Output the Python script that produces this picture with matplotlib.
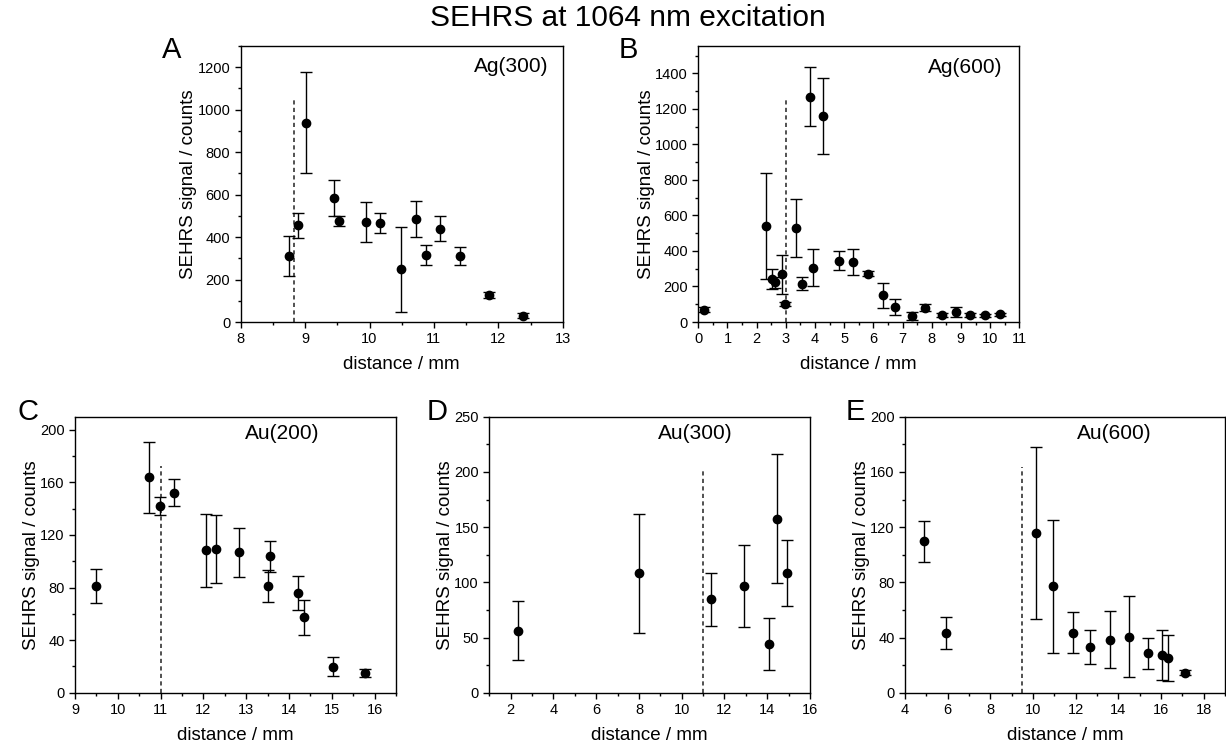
"""SEHRS signal vs distance for Ag and Au samples at 1064 nm excitation."""

import matplotlib
matplotlib.use("Agg")
import matplotlib.pyplot as plt
from matplotlib.ticker import MultipleLocator

plt.rcParams["font.family"] = ["Liberation Sans", "DejaVu Sans"]

# Ag(300)
ag300_x = [8.75, 8.895, 9.01, 9.45, 9.52, 9.94, 10.16, 10.49, 10.72, 10.87, 11.10, 11.41, 11.86, 12.39]
ag300_y = [312, 455, 938, 583, 476, 473, 465, 248, 485, 316, 440, 311, 127, 30]
ag300_err = [95, 60, 238, 85, 22, 94, 47, 200, 83, 47, 59, 42, 15, 12]
ag300_edge = 8.82

# Ag(600)
ag600_x = [0.21, 2.31, 2.52, 2.64, 2.86, 2.96, 3.34, 3.55, 3.84, 3.92, 4.29, 4.81,
           5.30, 5.80, 6.34, 6.74, 7.34, 7.76, 8.36, 8.83, 9.30, 9.81, 10.35]
ag600_y = [69, 539, 242, 223, 268, 101, 529, 216, 1269, 306, 1160, 345,
           338, 272, 150, 83, 34, 81, 38, 56, 41, 38, 43]
ag600_err = [15, 298, 58, 32, 112, 10, 162, 36, 165, 106, 215, 53,
             75, 15, 70, 45, 20, 20, 10, 30, 12, 8, 10]
ag600_edge = 2.99

# Au(200)
au200_x = [9.48, 10.72, 10.99, 11.31, 12.05, 12.29, 12.83, 13.52, 13.56, 14.22, 14.34, 15.02, 15.78]
au200_y = [81.2, 164, 141.9, 152.3, 108.4, 109.1, 106.9, 81.2, 103.8, 76.1, 57.4, 19.8, 15.0]
au200_err = [13.2, 27, 7, 10, 27.6, 26, 18.5, 12.4, 11.8, 13, 13.2, 7.4, 3]
au200_edge = 11.0

# Au(300)
au300_x = [2.34, 8.01, 11.35, 12.89, 14.06, 14.47, 14.94]
au300_y = [56.2, 108.1, 84.5, 96.6, 43.8, 157.6, 108.4]
au300_err = [26.9, 53.9, 23.7, 37.4, 23.6, 58.3, 29.6]
au300_edge = 11.0

# Au(600)
au600_x = [4.87, 5.92, 10.14, 10.92, 11.86, 12.68, 13.62, 14.52, 15.40, 16.07, 16.35, 17.13]
au600_y = [109.7, 43.5, 115.7, 77.1, 43.5, 33.1, 38.4, 40.6, 28.5, 27.3, 24.9, 14.5]
au600_err = [14.7, 11.6, 62.6, 48, 15, 12.3, 20.5, 29.5, 11.3, 18, 16.7, 2]
au600_edge = 9.47

W, H = 1226, 747
fig = plt.figure(figsize=(W / 100, H / 100), dpi=100)


def px_axes(left, right, top, bottom):
    return fig.add_axes([left / W, 1 - bottom / H, (right - left) / W, (bottom - top) / H])


panels = [
    # (x, y, err, edge, edge_top, label, label_pos, letter, letter_pos, axes px, xlim, ylim, xmaj, xmin, ymaj, ymin)
    (ag300_x, ag300_y, ag300_err, ag300_edge, 1062, "Ag(300)", (0.955, 0.924, "right"),
     "A", (172, 50), (240.7, 562.7, 46, 322), (8, 13), (0, 1300), 1, 0.5, 200, 100),
    (ag600_x, ag600_y, ag600_err, ag600_edge, 1268, "Ag(600)", (0.946, 0.923, "right"),
     "B", (628, 50), (698.3, 1019.3, 46, 322), (0, 11), (0, 1554), 1, 0.5, 200, 100),
    (au200_x, au200_y, au200_err, au200_edge, 172.6, "Au(200)", (0.644, 0.94, "center"),
     "C", (28, 412), (75, 396, 416.7, 692.7), (9, 16.5), (0, 210), 1, 0.5, 40, 20),
    (au300_x, au300_y, au300_err, au300_edge, 203.8, "Au(300)", (0.643, 0.94, "center"),
     "D", (437, 412), (489.3, 810, 416.7, 692.7), (1, 16), (0, 250), 2, 1, 50, 25),
    (au600_x, au600_y, au600_err, au600_edge, 163.8, "Au(600)", (0.653, 0.94, "center"),
     "E", (855, 412), (905, 1225, 416.7, 692.7), (4, 19), (0, 200), 2, 1, 40, 20),
]

for (x, y, err, edge, edge_top, label, lpos, letter, letpos, box,
     xlim, ylim, xmaj, xmin, ymaj, ymin) in panels:
    ax = px_axes(*box)
    ax.errorbar(x, y, yerr=err, fmt="o", color="black", markersize=6,
                elinewidth=1.0, capsize=4, capthick=1.0, zorder=3)
    ax.plot([edge, edge], [0, edge_top], color="#333333", linewidth=1.2,
            linestyle=(0, (2.5, 2)), zorder=2)
    ax.set_xlim(*xlim)
    ax.set_ylim(*ylim)
    ax.xaxis.set_major_locator(MultipleLocator(xmaj))
    ax.xaxis.set_minor_locator(MultipleLocator(xmin))
    ax.yaxis.set_major_locator(MultipleLocator(ymaj))
    ax.yaxis.set_minor_locator(MultipleLocator(ymin))
    ax.tick_params(which="both", direction="out", top=False, right=False, labelsize=10.5)
    ax.tick_params(which="major", length=4, width=1)
    ax.tick_params(which="minor", length=2.5, width=1)
    for sp in ax.spines.values():
        sp.set_linewidth(1.0)
    ax.set_xlabel("distance / mm", fontsize=13.5, labelpad=7)
    ax.set_ylabel("SEHRS signal / counts", fontsize=13.5, labelpad=0)
    ax.text(lpos[0], lpos[1], label, transform=ax.transAxes, ha=lpos[2], va="center",
            fontsize=15)
    fig.text(letpos[0] / W, 1 - letpos[1] / H, letter, ha="center", va="center", fontsize=21)

fig.text(628 / W, 1 - 18 / H, "SEHRS at 1064 nm excitation", ha="center", va="center", fontsize=21.5)

fig.savefig("out.png", dpi=100)
